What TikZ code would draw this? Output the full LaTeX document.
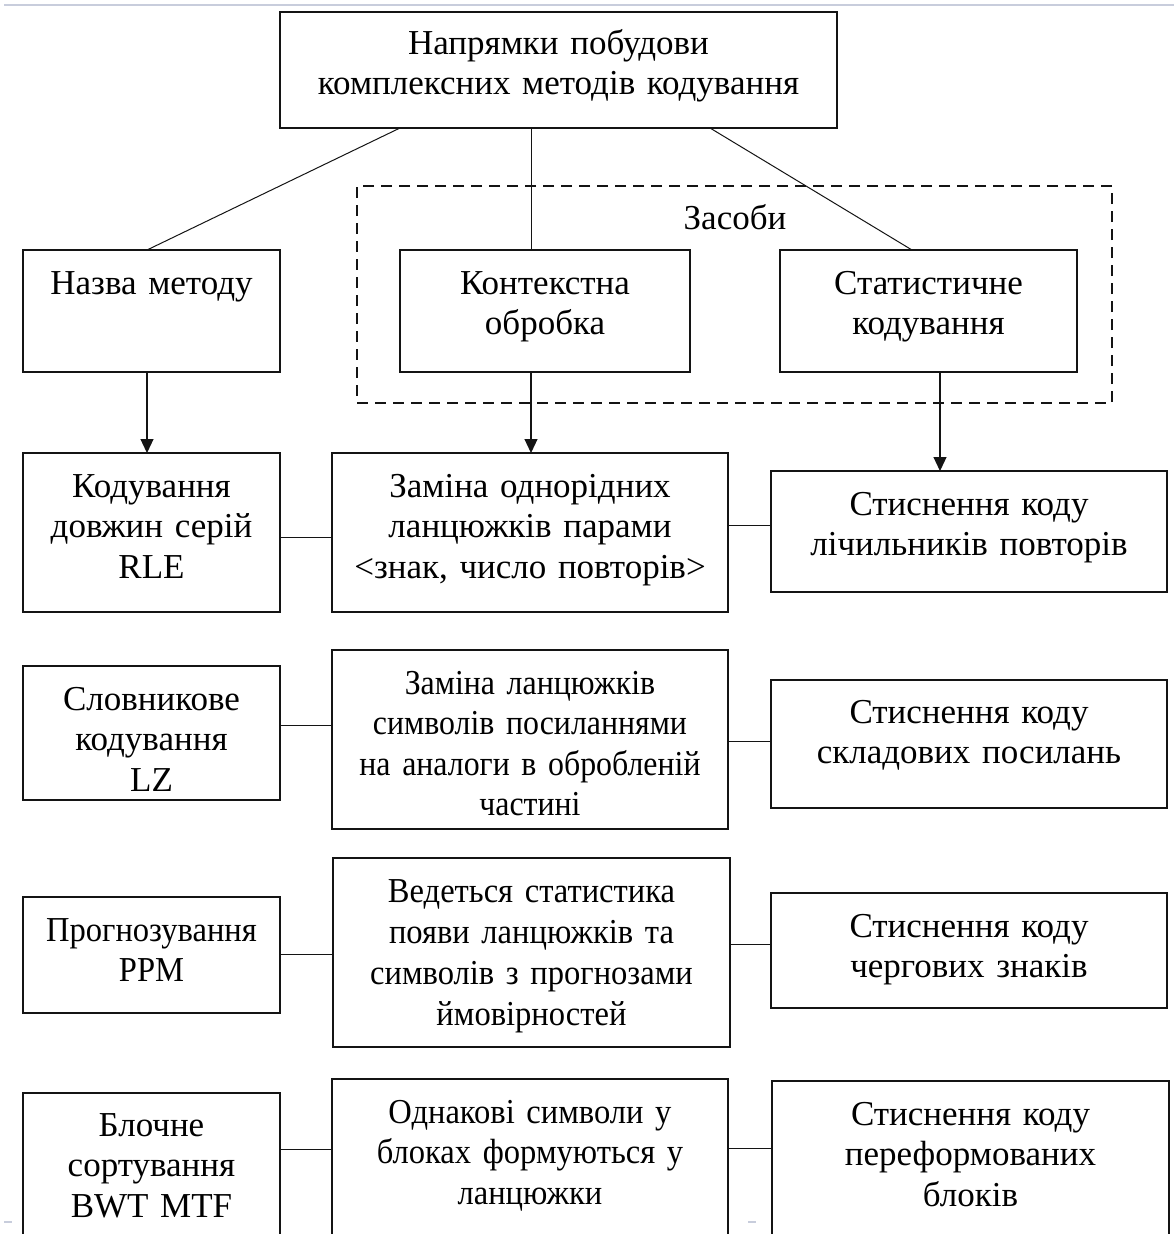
\documentclass[tikz,border=0pt]{standalone}
\usepackage{fontspec}
\setmainfont{Liberation Serif}
\newfontfamily\condfont[FakeStretch=0.93]{Liberation Serif}
\newfontfamily\narrowfont[FakeStretch=0.91]{Liberation Serif}
\usetikzlibrary{arrows.meta}
\definecolor{rule}{RGB}{200,205,220}
\definecolor{ink}{RGB}{20,20,20}
\begin{document}
\begin{tikzpicture}[x=1pt,y=-1pt,
  box/.style={draw=ink, line width=1.2pt, inner sep=0pt, outer sep=0pt},
  txt/.style={anchor=base, inner sep=0pt, align=center, text=black,
    font=\fontsize{35pt}{40.5pt}\selectfont},
  link/.style={draw=ink, line width=1pt},
  arr/.style={draw=ink, line width=1.2pt, -{Triangle[length=14pt,width=13pt]}},
  frame/.style={draw=ink, line width=1.2pt, dash pattern=on 11pt off 7pt}]
\useasboundingbox (0,0) rectangle (1174,1234);
\clip (0,0) rectangle (1174,1234);
\fill[white] (0,0) rectangle (1174,1234);

% page edge rule and marks
\draw[rule, line width=1.5pt] (4,5) -- (1174,5);
\draw[rule, line width=1.5pt] (4,1222) -- (12,1222);
\draw[rule, line width=1.5pt] (748,1222) -- (756,1222);

% root
\node[box, minimum width=557pt, minimum height=116pt] (root) at (558.5,70) {};
\node[txt, text width=557pt] (root-t) at ([yshift=-42pt]root.north)
  {Напрямки побудови\\комплексних методів кодування};

% group of tools
\node[frame, inner sep=0pt, minimum width=755pt, minimum height=217pt] (tools) at (734.5,294.5) {};
\node[txt] (tools-t) at (735,229) {Засоби};

% first row
\node[box, minimum width=257pt, minimum height=122pt] (name) at (151.5,311) {};
\node[txt, text width=257pt] (name-t) at ([yshift=-44pt]name.north) {Назва методу};
\node[box, minimum width=290pt, minimum height=122pt] (ctx) at (545,311) {};
\node[txt, text width=290pt] (ctx-t) at ([yshift=-44pt]ctx.north) {Контекстна\\обробка};
\node[box, minimum width=297pt, minimum height=122pt] (stat) at (928.5,311) {};
\node[txt, text width=297pt] (stat-t) at ([yshift=-44pt]stat.north) {Статистичне\\кодування};

% RLE row
\node[box, minimum width=257pt, minimum height=159pt] (rle) at (151.5,532.5) {};
\node[txt, text width=257pt] (rle-t) at ([yshift=-44pt]rle.north) {Кодування\\довжин серій\\RLE};
\node[box, minimum width=396pt, minimum height=159pt] (rle2) at (530,532.5) {};
\node[txt, text width=396pt] (rle2-t) at ([yshift=-44pt]rle2.north) {Заміна однорідних\\ланцюжків парами\\<знак, число повторів>};
\node[box, minimum width=396pt, minimum height=121pt] (rle3) at (969,531.5) {};
\node[txt, text width=396pt] (rle3-t) at ([yshift=-44pt]rle3.north) {Стиснення коду\\лічильників повторів};

% LZ row
\node[box, minimum width=257pt, minimum height=134pt] (lz) at (151.5,733) {};
\node[txt, text width=257pt] (lz-t) at ([yshift=-44pt]lz.north) {Словникове\\кодування\\LZ};
\node[box, minimum width=396pt, minimum height=179pt] (lz2) at (530,739.5) {};
\node[txt, text width=396pt, font=\narrowfont\fontsize{35pt}{40.5pt}\selectfont] (lz2-t) at ([yshift=-44pt]lz2.north)
  {Заміна ланцюжків\\символів посиланнями\\на аналоги в обробленій\\частині};
\node[box, minimum width=396pt, minimum height=128pt] (lz3) at (969,744) {};
\node[txt, text width=396pt] (lz3-t) at ([yshift=-43pt]lz3.north) {Стиснення коду\\складових посилань};

% PPM row
\node[box, minimum width=257pt, minimum height=116pt] (ppm) at (151.5,955) {};
\node[txt, text width=257pt, font=\condfont\fontsize{35pt}{40pt}\selectfont] (ppm-t) at ([yshift=-44pt]ppm.north) {Прогнозування\\PPM};
\node[box, minimum width=397pt, minimum height=189pt] (ppm2) at (531.5,952.5) {};
\node[txt, text width=397pt, font=\condfont\fontsize{35pt}{41pt}\selectfont] (ppm2-t) at ([yshift=-44pt]ppm2.north)
  {Ведеться статистика\\появи ланцюжків та\\символів з прогнозами\\ймовірностей};
\node[box, minimum width=396pt, minimum height=115pt] (ppm3) at (969,950.5) {};
\node[txt, text width=396pt] (ppm3-t) at ([yshift=-44pt]ppm3.north) {Стиснення коду\\чергових знаків};

% BWT row
\node[box, minimum width=257pt, minimum height=180pt] (bwt) at (151.5,1183) {};
\node[txt, text width=257pt] (bwt-t) at ([yshift=-43pt]bwt.north) {Блочне\\сортування\\BWT MTF};
\node[box, minimum width=396pt, minimum height=194pt] (bwt2) at (530,1176) {};
\node[txt, text width=396pt, font=\condfont\fontsize{35pt}{40.5pt}\selectfont] (bwt2-t) at ([yshift=-44pt]bwt2.north)
  {Однакові символи у\\блоках формуються у\\ланцюжки};
\node[box, minimum width=397pt, minimum height=192pt] (bwt3) at (970.5,1177) {};
\node[txt, text width=397pt] (bwt3-t) at ([yshift=-44pt]bwt3.north) {Стиснення коду\\переформованих\\блоків};

% links from the root
\draw[link] ([xshift=120pt]root.south west) -- ([xshift=-4.5pt]name.north);
\draw[link] ([xshift=251pt]root.south west) -- ([xshift=-14pt]ctx.north);
\draw[link] ([xshift=430pt]root.south west) -- ([xshift=-16.5pt]stat.north);

% arrows down
\draw[arr] ([xshift=-4.5pt]name.south) -- ([xshift=-4.5pt]name.south |- rle.north);
\draw[arr] ([xshift=-14pt]ctx.south) -- ([xshift=-14pt]ctx.south |- rle2.north);
\draw[arr] ([xshift=11.5pt]stat.south) -- ([xshift=11.5pt]stat.south |- rle3.north);

% horizontal links
\coordinate (h1) at (0,537);
\coordinate (h2) at (0,525);
\coordinate (h3) at (0,725);
\coordinate (h4) at (0,741);
\coordinate (h5) at (0,954);
\coordinate (h6) at (0,944);
\coordinate (h7) at (0,1149);
\coordinate (h8) at (0,1148);
\draw[link] (rle.east |- h1) -- (rle2.west |- h1);
\draw[link] (rle2.east |- h2) -- (rle3.west |- h2);
\draw[link] (lz.east |- h3) -- (lz2.west |- h3);
\draw[link] (lz2.east |- h4) -- (lz3.west |- h4);
\draw[link] (ppm.east |- h5) -- (ppm2.west |- h5);
\draw[link] (ppm2.east |- h6) -- (ppm3.west |- h6);
\draw[link] (bwt.east |- h7) -- (bwt2.west |- h7);
\draw[link] (bwt2.east |- h8) -- (bwt3.west |- h8);
\end{tikzpicture}
\end{document}
